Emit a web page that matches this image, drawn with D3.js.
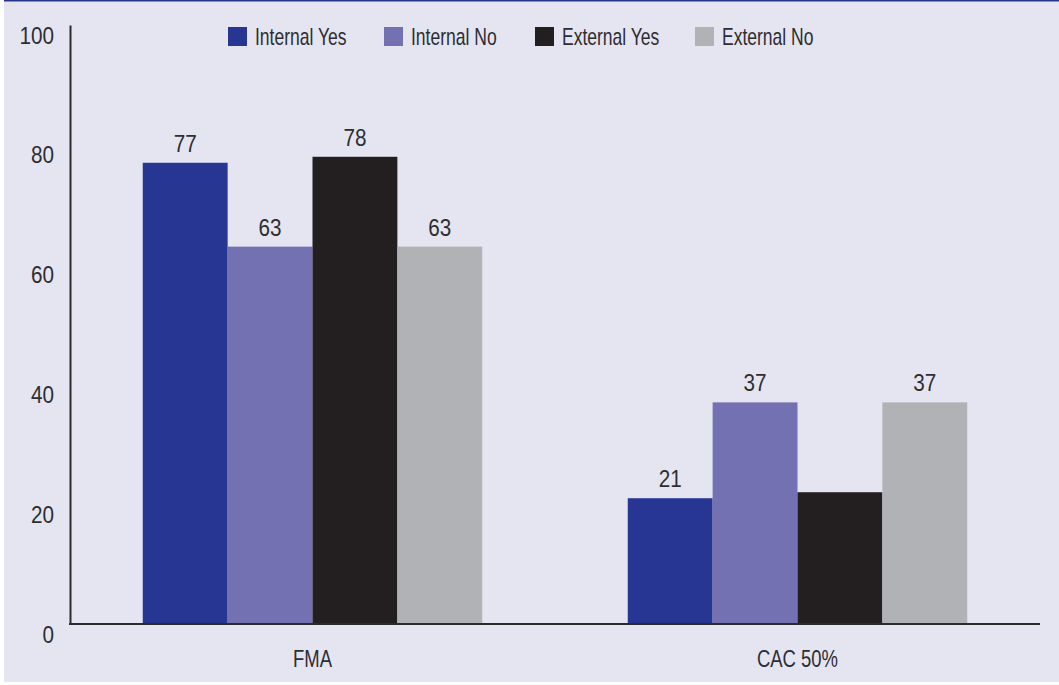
<!DOCTYPE html>
<html>
<head>
<meta charset="utf-8">
<script src="https://cdn.jsdelivr.net/npm/d3@7"></script>
<style>
  body { margin: 0; background: #fff; }
  text { font-family: 'Liberation Sans', Arial, sans-serif; fill: #2e2d30; }
</style>
</head>
<body>
<script>
var width = 1059,
    height = 685,
    margin = {top: 25, right: 19, bottom: 61, left: 70};

var categories = ['FMA', 'CAC 50%'];
var seriesNames = ['Internal Yes', 'Internal No', 'External Yes', 'External No'];
var internalYes = [77, 21];
var internalNo = [63, 37];
var externalYes = [78, 22];
var externalNo = [63, 37];
// the CAC external yes bar has no value printed on it
var hideLabel = [[false, false], [false, false], [false, true], [false, false]];
var yTicks = [0, 20, 40, 60, 80, 100];

var colors = {
  'Internal Yes': '#263692',
  'Internal No': '#7371b1',
  'External Yes': '#231f20',
  'External No': '#b1b2b6'
};

// no condensed face installed, so squeeze the text horizontally
var numSqueeze = 0.9,
    wordSqueeze = 0.73;

var series = [internalYes, internalNo, externalYes, externalNo];

var svg = d3.select('body').append('svg')
    .attr('width', width)
    .attr('height', height);

// background panel
svg.append('rect')
    .attr('x', 4).attr('y', 0)
    .attr('width', width - 4).attr('height', 682)
    .attr('fill', '#e5e5f2');

svg.append('line')
    .attr('x1', 4).attr('x2', width)
    .attr('y1', 0.75).attr('y2', 0.75)
    .attr('stroke', '#27348b')
    .attr('stroke-width', 1.5);

var x0 = d3.scaleBand()
    .domain(categories)
    .range([margin.left, width - margin.right])
    .paddingInner(0.3)
    .paddingOuter(0.15);

var x1 = d3.scaleBand()
    .domain(seriesNames)
    .range([0, x0.bandwidth()]);

var y = d3.scaleLinear()
    .domain([0, 100])
    .range([height - margin.bottom, margin.top]);

// bars
categories.forEach(function(cat, ci) {
  var g = svg.append('g').attr('transform', 'translate(' + x0(cat) + ',0)');
  seriesNames.forEach(function(name, si) {
    var v = series[si][ci];
    g.append('rect')
        .attr('x', x1(name))
        .attr('y', y(v))
        .attr('width', x1.bandwidth())
        .attr('height', y(0) - y(v))
        .attr('fill', colors[name]);
    if (!hideLabel[si][ci]) {
      g.append('text')
          .attr('transform', 'translate(' + (x1(name) + x1.bandwidth() / 2) + ',' + (y(v) - 11) + ') scale(' + numSqueeze + ',1)')
          .attr('text-anchor', 'middle')
          .style('font-size', '23px')
          .text(v);
    }
  });
});

// y axis
var yAxis = d3.axisLeft(y).tickValues(yTicks).tickSize(0).tickPadding(16 / numSqueeze);
var ya = svg.append('g')
    .attr('transform', 'translate(' + margin.left + ',0)')
    .call(yAxis);
ya.select('.domain').attr('stroke', '#2b2a2c').attr('stroke-width', 2);
ya.selectAll('text')
    .attr('dy', 18)
    .attr('transform', 'scale(' + numSqueeze + ',1)')
    .style('font-size', '23px')
    .style('font-family', null)
    .attr('fill', null);

// x axis
var xAxis = d3.axisBottom(x0).tickSize(0).tickPadding(26);
var xa = svg.append('g')
    .attr('transform', 'translate(0,' + y(0) + ')')
    .call(xAxis);
xa.select('.domain').attr('stroke', '#2b2a2c').attr('stroke-width', 2)
    .attr('d', 'M' + (margin.left - 1) + ',0H' + (width - margin.right));
xa.selectAll('text')
    .attr('transform', 'scale(0.77,1)')
    .style('font-size', '24px')
    .style('font-family', null)
    .attr('fill', null);

// legend
var legendX = [228, 384, 535, 695];
var legend = svg.append('g');
seriesNames.forEach(function(name, i) {
  var lg = legend.append('g').attr('transform', 'translate(' + legendX[i] + ',27)');
  lg.append('rect')
      .attr('width', 19).attr('height', 19)
      .attr('fill', colors[name]);
  lg.append('text')
      .attr('transform', 'translate(27,18) scale(' + wordSqueeze + ',1)')
      .style('font-size', '24px')
      .text(name);
});
</script>
</body>
</html>
